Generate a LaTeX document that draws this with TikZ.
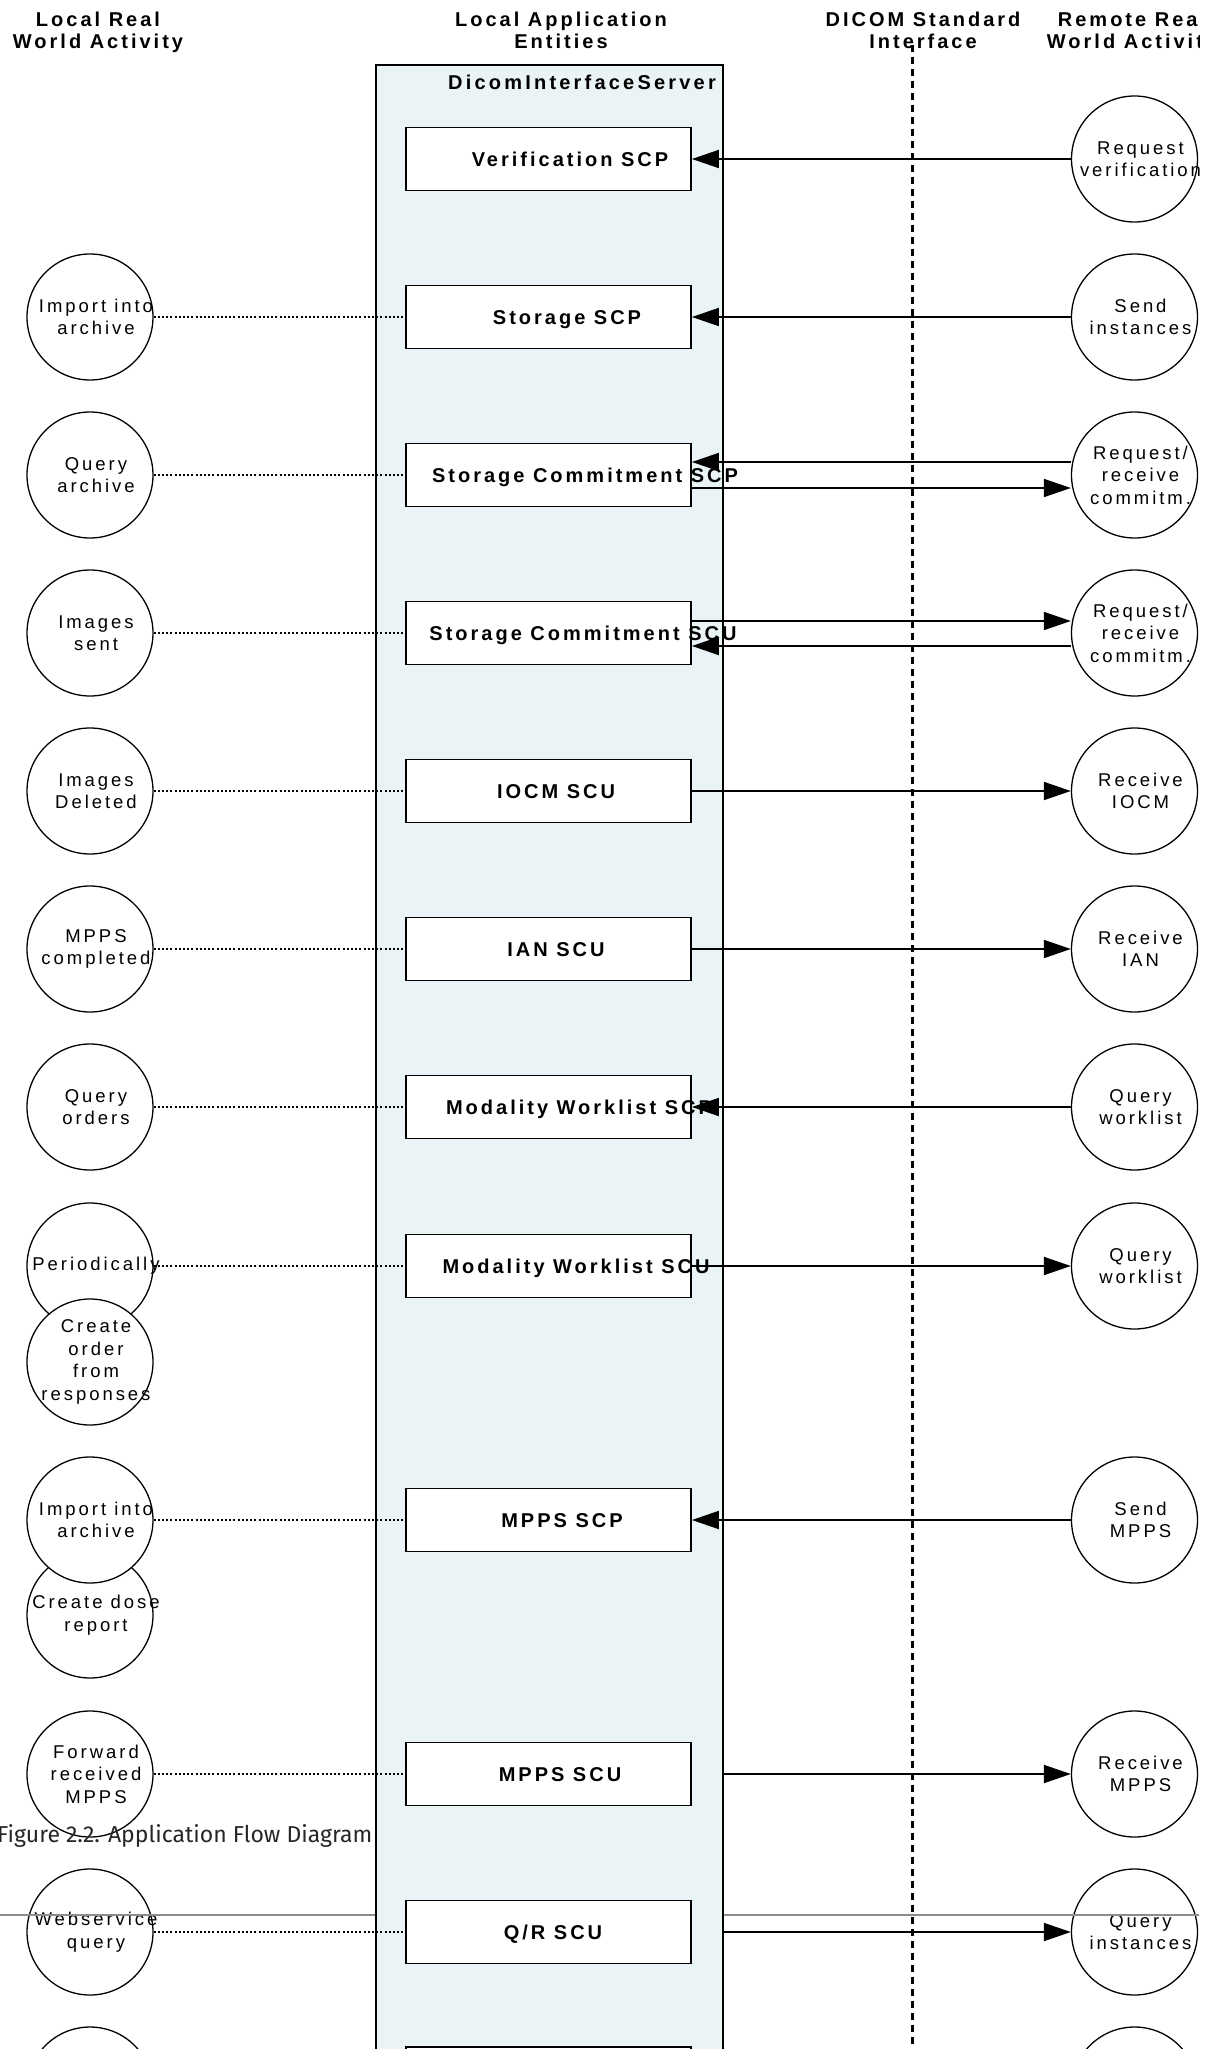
\documentclass[tikz,border=0pt]{standalone}
\usepackage{fontspec}
\setmainfont{Liberation Sans}
\newfontfamily\hdfont[LetterSpace=15]{Liberation Sans}
\newfontfamily\srvfont[LetterSpace=16]{Liberation Sans}
\newfontfamily\actfont[LetterSpace=16]{Liberation Sans}
\newfontfamily\capfont{Fira Sans}
\usetikzlibrary{arrows.meta,positioning}

\definecolor{serverfill}{RGB}{234,243,245}
\definecolor{rulegray}{RGB}{140,140,140}

\tikzset{
	hdr/.style={font=\hdfont\bfseries\fontsize{20}{22}\selectfont, align=center, inner sep=0pt, anchor=north},
	svc/.style={draw, fill=white, line width=1.8pt, minimum width=285pt, minimum height=63pt, inner sep=0pt},
	svclbl/.style={font=\hdfont\bfseries\fontsize{20}{22}\selectfont, inner sep=0pt, text height=14.3pt, text depth=0pt},
	act/.style={circle, draw, line width=1.3pt, minimum size=126pt, inner sep=0pt},
	acttxt/.style={font=\actfont\fontsize{18.5}{22.5}\selectfont, align=center, inner sep=0pt, xshift=6pt},
	flow/.style={line width=1.8pt, -{Triangle[length=27pt,width=18pt]}},
	link/.style={line width=1.4pt, dash pattern=on 2pt off 2.2pt},
}

\begin{document}
\begin{tikzpicture}[x=1pt, y=-1pt]
			%%%%% START %%%%%
			\useasboundingbox (0,0) rectangle (1220,2049);
			\clip (0,0) rectangle (1199,2049);
			
			% column heads
			\node[hdr] (hdlocal) at (98,12) {Local Real\\World Activity};
			\node[hdr] (hdapp) at (561,12) {Local Application\\Entities};
			\node[hdr] (hddicom) at (923,12) {DICOM Standard\\Interface};
			\node[hdr] (hdremote) at (1132,12) {Remote Real\\World Activity};
			
			% local activities
			\node[act, label={[acttxt]center:Import into\\archive}] (limport) at (90,317) {};
			\node[act, label={[acttxt]center:Query\\archive}] (lquery) at (90,475) {};
			\node[act, label={[acttxt]center:Images\\sent}] (lsent) at (90,633) {};
			\node[act, label={[acttxt]center:Images\\Deleted}] (ldeleted) at (90,791) {};
			\node[act, label={[acttxt]center:MPPS\\completed}] (lmpps) at (90,949) {};
			\node[act, label={[acttxt]center:Query\\orders}] (lorders) at (90,1107) {};
			\node[act, label={[acttxt]center:Periodically}] (lperiod) at (90,1266) {};
			\node[act, fill=white, label={[acttxt]center:Create\\order\\from\\responses}] (lcreate) at (90,1362) {};
			\node[act, label={[acttxt]center:Create dose\\report}] (ldose) at (90,1615) {};
			\node[act, fill=white, label={[acttxt]center:Import into\\archive}] (limpmpps) at (90,1520) {};
			\node[act, label={[acttxt]center:Forward\\received\\MPPS}] (lfwd) at (90,1774) {};
			\node[act, label={[acttxt]center:Webservice\\query}] (lweb) at (90,1932) {};
			\node[act] (lnext) at (90,2090) {};
			
			% remote activities
			\node[act, label={[acttxt]center:Request\\verification}] (rverif) at (1134.5,159) {};
			\node[act, label={[acttxt]center:Send\\instances}] (rsend) at (1134.5,317) {};
			\node[act, label={[acttxt]center:Request/\\receive\\commitm.}] (rcmt1) at (1134.5,475) {};
			\node[act, label={[acttxt]center:Request/\\receive\\commitm.}] (rcmt2) at (1134.5,633) {};
			\node[act, label={[acttxt]center:Receive\\IOCM}] (riocm) at (1134.5,791) {};
			\node[act, label={[acttxt]center:Receive\\IAN}] (rian) at (1134.5,949) {};
			\node[act, label={[acttxt]center:Query\\worklist}] (rmwl1) at (1134.5,1107) {};
			\node[act, label={[acttxt]center:Query\\worklist}] (rmwl2) at (1134.5,1266) {};
			\node[act, label={[acttxt]center:Send\\MPPS}] (rmpps) at (1134.5,1520) {};
			\node[act, label={[acttxt]center:Receive\\MPPS}] (rrecmpps) at (1134.5,1774) {};
			\node[act, label={[acttxt]center:Query\\instances}] (rqr) at (1134.5,1932) {};
			\node[act] (rnext) at (1134.5,2090) {};
			
			% page rule and caption
			\draw[line width=1.5pt, color=rulegray] (0,1915) -- (1220,1915);
			\node[font=\capfont\fontsize{23}{26}\selectfont, text=black!85, anchor=west, inner sep=0pt] (caption) at (-3,1836) {Figure 2.2. Application Flow Diagram};
			
			% application entity
			\node[draw, fill=serverfill, line width=1.8pt, minimum width=347pt, minimum height=2080pt, anchor=north west, inner sep=0pt] (server) at (375,64) {};
			\node[font=\srvfont\bfseries\fontsize{20}{22}\selectfont, anchor=east, inner sep=0pt] (servername) at (716,82) {DicomInterfaceServer};
			
			\node[svc] (vscp) at (548.5,159) {};
			\node[svc] (stscp) at (548.5,317) {};
			\node[svc] (cmtscp) at (548.5,475) {};
			\node[svc] (cmtscu) at (548.5,633) {};
			\node[svc] (iocm) at (548.5,791) {};
			\node[svc] (ian) at (548.5,949) {};
			\node[svc] (mwlscp) at (548.5,1107) {};
			\node[svc] (mwlscu) at (548.5,1266) {};
			\node[svc] (mppsscp) at (548.5,1520) {};
			\node[svc] (mppsscu) at (548.5,1774) {};
			\node[svc] (qrscu) at (548.5,1932) {};
			\node[svc, anchor=north] (nextscu) at (548.5,2046) {};
			
			\node[svclbl] (vscptxt) at (570,159) {Verification SCP};
			\node[svclbl] (stscptxt) at (567,317) {Storage SCP};
			\node[svclbl] (cmtscptxt) at (585,475) {Storage Commitment SCP};
			\node[svclbl] (cmtscutxt) at (583,633) {Storage Commitment SCU};
			\node[svclbl] (iocmtxt) at (556,791) {IOCM SCU};
			\node[svclbl] (iantxt) at (556,949) {IAN SCU};
			\node[svclbl] (mwlscptxt) at (579,1107) {Modality Worklist SCP};
			\node[svclbl] (mwlscutxt) at (576,1266) {Modality Worklist SCU};
			\node[svclbl] (mppsscptxt) at (562,1520) {MPPS SCP};
			\node[svclbl] (mppsscutxt) at (560,1774) {MPPS SCU};
			\node[svclbl] (qrscutxt) at (553,1932) {Q/R SCU};
			
			% DICOM interface
			\draw[line width=3pt, dash pattern=on 7pt off 5pt] (912,45) -- (912,2100);
			
			% local links
			\draw[link] (limport) -- (stscp);
			\draw[link] (lquery) -- (cmtscp);
			\draw[link] (lsent) -- (cmtscu);
			\draw[link] (ldeleted) -- (iocm);
			\draw[link] (lmpps) -- (ian);
			\draw[link] (lorders) -- (mwlscp);
			\draw[link] (lperiod) -- (mwlscu);
			\draw[link] (limpmpps) -- (mppsscp);
			\draw[link] (lfwd) -- (mppsscu);
			\draw[link] (lweb) -- (qrscu);
			
			% associations
			\draw[flow] (rverif) -- (vscp);
			\draw[flow] (rsend) -- (stscp);
			\draw[flow] ([yshift=13pt]rcmt1.west) -- ([yshift=13pt]cmtscp.east);
			\draw[flow] ([yshift=-13pt]cmtscp.east) -- ([yshift=-13pt]rcmt1.west);
			\draw[flow] ([yshift=12pt]cmtscu.east) -- ([yshift=12pt]rcmt2.west);
			\draw[flow] ([yshift=-13pt]rcmt2.west) -- ([yshift=-13pt]cmtscu.east);
			\draw[flow] (iocm) -- (riocm);
			\draw[flow] (ian) -- (rian);
			\draw[flow] (rmwl1) -- (mwlscp);
			\draw[flow] (mwlscu) -- (rmwl2);
			\draw[flow] (rmpps) -- (mppsscp);
			\draw[flow] (server.east |- mppsscu) -- (rrecmpps);
			\draw[flow] (server.east |- qrscu) -- (rqr);
			
			%%%%% END %%%%%
\end{tikzpicture}
\end{document}
